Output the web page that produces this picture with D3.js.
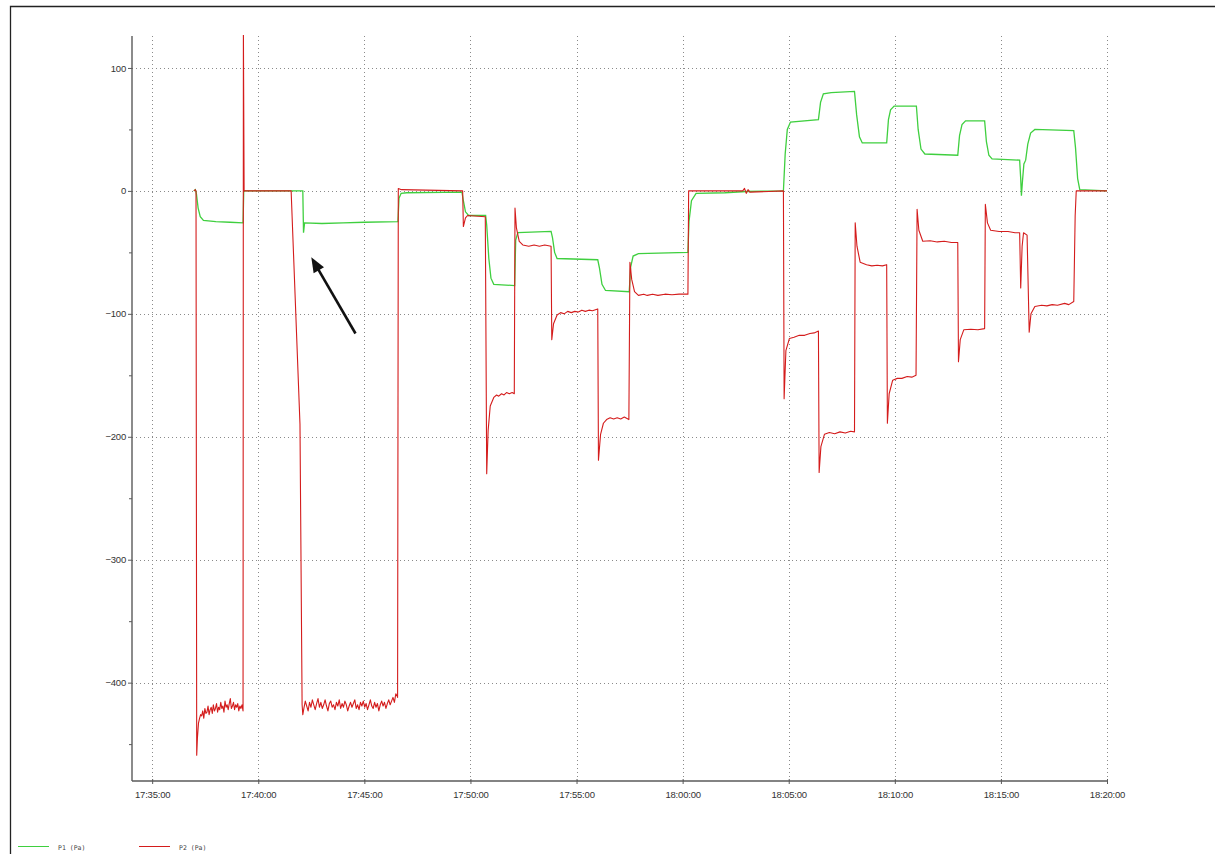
<!DOCTYPE html>
<html>
<head>
<meta charset="utf-8">
<script src="https://cdn.jsdelivr.net/npm/d3@7"></script>
<style>
  html, body { margin: 0; padding: 0; background: #fff; }
  svg { display: block; }
</style>
</head>
<body>
<svg id="chart" width="1215" height="854"></svg>
<script>
// Pressure log, P1 and P2 in Pa, recorded between 17:34 and 18:20.
const timeDomain = ["17:34:03", "18:20:00"];
const valueDomain = [-480, 126];
const xTickLabels = ["17:35:00", "17:40:00", "17:45:00", "17:50:00", "17:55:00",
                     "18:00:00", "18:05:00", "18:10:00", "18:15:00", "18:20:00"];
const yTickValues = [100, 0, -100, -200, -300, -400];
const yMinorTicks = [50, -50, -150, -250, -350, -450];
const seriesNames = ["P1 (Pa)", "P2 (Pa)"];

// P1 samples [time, Pa]
const p1 = [
  ["17:36:58", 0], ["17:37:02", 1], ["17:37:05", -2], ["17:37:10", -14], ["17:37:16", -21],
  ["17:37:25", -24], ["17:38:00", -25], ["17:38:40", -25.5], ["17:39:17", -26], ["17:39:19", 0],
  ["17:42:06", 0], ["17:42:08", -34], ["17:42:11", -26], ["17:43:00", -26.5], ["17:44:00", -26],
  ["17:45:00", -25.5], ["17:46:35", -25], ["17:46:38", -6], ["17:46:44", -2], ["17:47:00", -1.5],
  ["17:49:36", -1], ["17:49:40", -8], ["17:49:46", -17], ["17:49:55", -20], ["17:50:43", -20],
  ["17:50:46", -28], ["17:50:52", -55], ["17:50:58", -71], ["17:51:06", -76], ["17:52:05", -77],
  ["17:52:08", -40], ["17:52:14", -34], ["17:53:48", -33], ["17:53:52", -38], ["17:53:58", -50],
  ["17:54:05", -55], ["17:56:00", -56], ["17:56:05", -63], ["17:56:12", -76], ["17:56:22", -81],
  ["17:57:29", -82], ["17:57:33", -62], ["17:57:40", -53], ["17:57:55", -51], ["18:00:15", -50],
  ["18:00:18", -25], ["18:00:25", -8], ["18:00:38", -2], ["18:02:00", -1.5], ["18:03:00", -0.5],
  ["18:04:45", 0], ["18:04:50", 30], ["18:04:56", 50], ["18:05:05", 56], ["18:06:24", 58],
  ["18:06:30", 72], ["18:06:38", 79], ["18:07:00", 80], ["18:08:06", 81], ["18:08:12", 62],
  ["18:08:20", 44], ["18:08:28", 39], ["18:09:37", 39], ["18:09:42", 58], ["18:09:48", 66],
  ["18:09:58", 69], ["18:11:01", 69], ["18:11:06", 50], ["18:11:14", 34], ["18:11:25", 30],
  ["18:12:58", 29], ["18:13:03", 45], ["18:13:10", 54], ["18:13:20", 57], ["18:14:14", 57],
  ["18:14:19", 40], ["18:14:26", 29], ["18:14:35", 26], ["18:15:53", 25], ["18:15:56", 10],
  ["18:15:58", -4], ["18:16:01", 8], ["18:16:05", 22], ["18:16:10", 25], ["18:16:16", 38],
  ["18:16:24", 47], ["18:16:36", 50], ["18:18:26", 49], ["18:18:31", 35], ["18:18:37", 10],
  ["18:18:43", 1], ["18:20:00", 0]
];

// P2 noisy hold periods, sampled at a fixed step (seconds)
const p2HoldA = { start: "17:37:20", step: 3, values: [
  -427, -423, -429, -421, -425, -424, -419, -426, -422, -420,
  -425, -418, -423, -421, -417, -424, -420, -422, -416, -421,
  -419, -424, -415, -420, -418, -422, -417, -413, -421, -419,
  -416, -422, -418, -420, -417, -423, -419, -421, -418
] };
const p2HoldB = { start: "17:42:09", step: 4, values: [
  -421, -415, -419, -423, -416, -420, -414, -418, -422, -417,
  -413, -420, -416, -421, -418, -414, -419, -423, -417, -415,
  -420, -418, -422, -416, -419, -414, -421, -417, -420, -415,
  -418, -423, -419, -416, -420, -417, -414, -421, -418, -422,
  -416, -419, -415, -420, -417, -422, -418, -414, -419, -421,
  -416, -420, -417, -423, -418, -415, -419, -416, -421, -417,
  -414, -418, -415, -412, -416, -409, -411
] };

// P2 samples [time, Pa]; the two hold periods are inserted between these pieces
const p2Before = [
  ["17:36:58", 0], ["17:37:02", 1], ["17:37:04", 0], ["17:37:06", -459], ["17:37:08", -445],
  ["17:37:11", -433], ["17:37:14", -429], ["17:37:17", -426]
];
const p2Middle = [
  ["17:39:17", -423], ["17:39:18", 130], ["17:39:20", 0],
  ["17:41:33", 0], ["17:41:58", -190], ["17:42:04", -418], ["17:42:06", -426]
];
const p2After = [
  ["17:46:34", -412], ["17:46:36", 2], ["17:46:45", 1], ["17:49:38", 0],
  ["17:49:40", -29], ["17:49:46", -22], ["17:49:52", -20], ["17:50:42", -21], ["17:50:46", -230],
  ["17:50:50", -195], ["17:50:56", -175], ["17:51:06", -168], ["17:51:14", -166], ["17:51:20", -167],
  ["17:51:28", -165], ["17:51:35", -166], ["17:51:42", -164], ["17:51:50", -165], ["17:51:58", -164],
  ["17:52:04", -165], ["17:52:06", -14], ["17:52:10", -30], ["17:52:18", -41],
  ["17:52:28", -44], ["17:52:45", -45], ["17:53:00", -44], ["17:53:15", -45], ["17:53:30", -44],
  ["17:53:48", -45], ["17:53:50", -121],
  ["17:53:55", -108], ["17:54:05", -101], ["17:54:15", -99], ["17:54:25", -100], ["17:54:35", -98],
  ["17:54:45", -99], ["17:54:55", -98], ["17:55:05", -98.5], ["17:55:15", -97], ["17:55:25", -98],
  ["17:55:35", -97], ["17:55:45", -97.5], ["17:56:00", -96], ["17:56:02", -219], ["17:56:08", -198],
  ["17:56:16", -189], ["17:56:25", -186], ["17:56:35", -184.5], ["17:56:45", -185.5], ["17:56:55", -184.5],
  ["17:57:05", -185.5], ["17:57:15", -184], ["17:57:28", -186], ["17:57:31", -58], ["17:57:36", -72],
  ["17:57:44", -82], ["17:57:55", -85], ["17:58:10", -84], ["17:58:20", -85], ["17:58:35", -84],
  ["17:58:50", -85], ["17:59:10", -84], ["17:59:30", -84.5], ["17:59:50", -84],
  ["18:00:15", -84], ["18:00:17", 0], ["18:02:50", 0], ["18:02:55", 2], ["18:03:00", -2],
  ["18:03:05", 1], ["18:03:10", -1], ["18:04:45", 0], ["18:04:47", -169], ["18:04:52", -130],
  ["18:05:02", -120], ["18:05:15", -119], ["18:05:30", -117.5], ["18:05:45", -117.5], ["18:06:00", -116],
  ["18:06:12", -115.5], ["18:06:24", -114], ["18:06:26", -229],
  ["18:06:31", -208], ["18:06:41", -198], ["18:06:55", -196.5], ["18:07:10", -197.5], ["18:07:25", -196],
  ["18:07:40", -197], ["18:07:55", -195.5], ["18:08:06", -196],
  ["18:08:08", -26], ["18:08:13", -45], ["18:08:22", -58], ["18:08:40", -60], ["18:08:55", -61],
  ["18:09:10", -60.5], ["18:09:25", -61], ["18:09:37", -60], ["18:09:39", -189], ["18:09:44", -165],
  ["18:09:54", -154], ["18:10:07", -152.5], ["18:10:20", -152.5], ["18:10:35", -151], ["18:10:48", -151.5],
  ["18:11:00", -150], ["18:11:03", -15], ["18:11:08", -32], ["18:11:19", -41], ["18:11:40", -40.5],
  ["18:12:00", -41.5], ["18:12:20", -41], ["18:12:40", -42],
  ["18:12:58", -42], ["18:13:00", -139], ["18:13:05", -121], ["18:13:15", -113], ["18:13:35", -112.5],
  ["18:13:55", -113], ["18:14:14", -112],
  ["18:14:16", -11], ["18:14:22", -26], ["18:14:31", -32], ["18:14:55", -33], ["18:15:20", -33],
  ["18:15:40", -34], ["18:15:53", -34],
  ["18:15:56", -79], ["18:16:00", -45], ["18:16:04", -34], ["18:16:14", -36], ["18:16:20", -115],
  ["18:16:25", -100], ["18:16:36", -94], ["18:16:55", -93], ["18:17:10", -93.5], ["18:17:25", -92.5],
  ["18:17:40", -93], ["18:18:00", -91.5], ["18:18:12", -92.5], ["18:18:26", -90],
  ["18:18:30", -20], ["18:18:33", 0], ["18:20:00", 0]
];

// Annotation arrow, tail then head, in data units
const arrowPoints = [["17:44:35", -116], ["17:42:30", -54]];

const parse = d3.timeParse("%H:%M:%S");
const fmt = d3.timeFormat("%H:%M:%S");
const holdSamples = h => h.values.map((v, i) =>
  [fmt(d3.timeSecond.offset(parse(h.start), i * h.step)), v]);
const p2 = [...p2Before, ...holdSamples(p2HoldA), ...p2Middle, ...holdSamples(p2HoldB), ...p2After];

const svg = d3.select("#chart");
const W = 1215, H = 854;
const plot = { left: 132, right: 1107, top: 36, bottom: 781 };

// outer frame
svg.append("path")
  .attr("d", `M10.5,${H} L10.5,6.5 L${W},6.5`)
  .attr("fill", "none").attr("stroke", "#222").attr("stroke-width", 1.3);

const x = d3.scaleTime()
  .domain(timeDomain.map(parse))
  .range([plot.left, plot.right]);
const y = d3.scaleLinear()
  .domain(valueDomain)
  .range([plot.bottom, plot.top]);

const gridColor = "#8a8a8a";
const xTicks = xTickLabels.map(parse);

// dotted grid
svg.append("g").selectAll("line").data(xTicks).join("line")
  .attr("x1", d => Math.round(x(d)) + 0.5).attr("x2", d => Math.round(x(d)) + 0.5)
  .attr("y1", plot.top).attr("y2", plot.bottom)
  .attr("stroke", gridColor).attr("stroke-width", 1).attr("stroke-dasharray", "1,3");
svg.append("g").selectAll("line").data(yTickValues).join("line")
  .attr("x1", plot.left).attr("x2", plot.right)
  .attr("y1", d => Math.round(y(d)) + 0.5).attr("y2", d => Math.round(y(d)) + 0.5)
  .attr("stroke", gridColor).attr("stroke-width", 1).attr("stroke-dasharray", "1,3");

// series
svg.append("defs").append("clipPath").attr("id", "plotClip")
  .append("rect").attr("x", plot.left).attr("y", plot.top - 1)
  .attr("width", plot.right - plot.left + 2).attr("height", plot.bottom - plot.top);

const line = d3.line().x(d => x(parse(d[0]))).y(d => y(d[1]));
const series = svg.append("g").attr("clip-path", "url(#plotClip)");
series.append("path").datum(p1).attr("d", line)
  .attr("fill", "none").attr("stroke", "#3fcf3f").attr("stroke-width", 1.3);
series.append("path").datum(p2).attr("d", line)
  .attr("fill", "none").attr("stroke", "#d41c1c").attr("stroke-width", 1.1)
  .attr("stroke-linejoin", "round");

// axes
const axisColor = "#5a5a5a";
const labelFont = "'Liberation Sans', Arial, sans-serif";

const yAxis = svg.append("g").attr("transform", `translate(${plot.left},0)`)
  .call(d3.axisLeft(y).tickValues(yTickValues).tickSize(4).tickPadding(2).tickFormat(d3.format("d")));
const yMinor = svg.append("g").attr("transform", `translate(${plot.left},0)`)
  .call(d3.axisLeft(y).tickValues(yMinorTicks).tickSize(3).tickFormat(""));
yMinor.select(".domain").remove();

const xAxis = svg.append("g").attr("transform", `translate(0,${plot.bottom})`)
  .call(d3.axisBottom(x).tickValues(xTicks).tickSize(3).tickPadding(7)
    .tickFormat(d3.timeFormat("%H:%M:%S")));

[yAxis, xAxis, yMinor].forEach(g => {
  g.select(".domain").attr("stroke", axisColor).attr("stroke-width", 1.4);
  g.selectAll(".tick line").attr("stroke", axisColor);
  g.selectAll("text").attr("fill", "#333").attr("font-family", labelFont)
    .attr("font-size", "9.5px").attr("letter-spacing", "-0.2px");
});
yAxis.select(".domain").attr("d", `M0,${plot.top}V${plot.bottom}`);
xAxis.select(".domain").attr("d", `M${plot.left},0H${plot.right}`);
xAxis.selectAll(".tick line").attr("y1", -2).attr("y2", 3);

// annotation arrow
const [tail, head] = arrowPoints.map(p => [x(parse(p[0])), y(p[1])]);
const ang = Math.atan2(head[1] - tail[1], head[0] - tail[0]);
const hl = 15, hw = 6;
const baseX = head[0] - hl * Math.cos(ang), baseY = head[1] - hl * Math.sin(ang);
svg.append("line")
  .attr("x1", tail[0]).attr("y1", tail[1]).attr("x2", baseX + 2 * Math.cos(ang)).attr("y2", baseY + 2 * Math.sin(ang))
  .attr("stroke", "#111").attr("stroke-width", 2.6);
svg.append("path")
  .attr("d", `M${head[0]},${head[1]}
    L${baseX + hw * Math.sin(ang)},${baseY - hw * Math.cos(ang)}
    L${baseX - hw * Math.sin(ang)},${baseY + hw * Math.cos(ang)}Z`)
  .attr("fill", "#111");

// legend
const legend = svg.append("g").attr("transform", "translate(18,846)");
const legendColors = ["#3fcf3f", "#d41c1c"];
seriesNames.forEach((name, i) => {
  const g = legend.append("g").attr("transform", `translate(${i * 121},0)`);
  g.append("line").attr("x1", 0).attr("x2", 31).attr("y1", 0.5).attr("y2", 0.5)
    .attr("stroke", legendColors[i]).attr("stroke-width", 1);
  g.append("text").attr("x", 40).attr("y", 3.5).text(name)
    .attr("font-family", "'DejaVu Sans Mono', 'Liberation Mono', monospace")
    .attr("font-size", "6.5px").attr("fill", "#444");
});
</script>
</body>
</html>
